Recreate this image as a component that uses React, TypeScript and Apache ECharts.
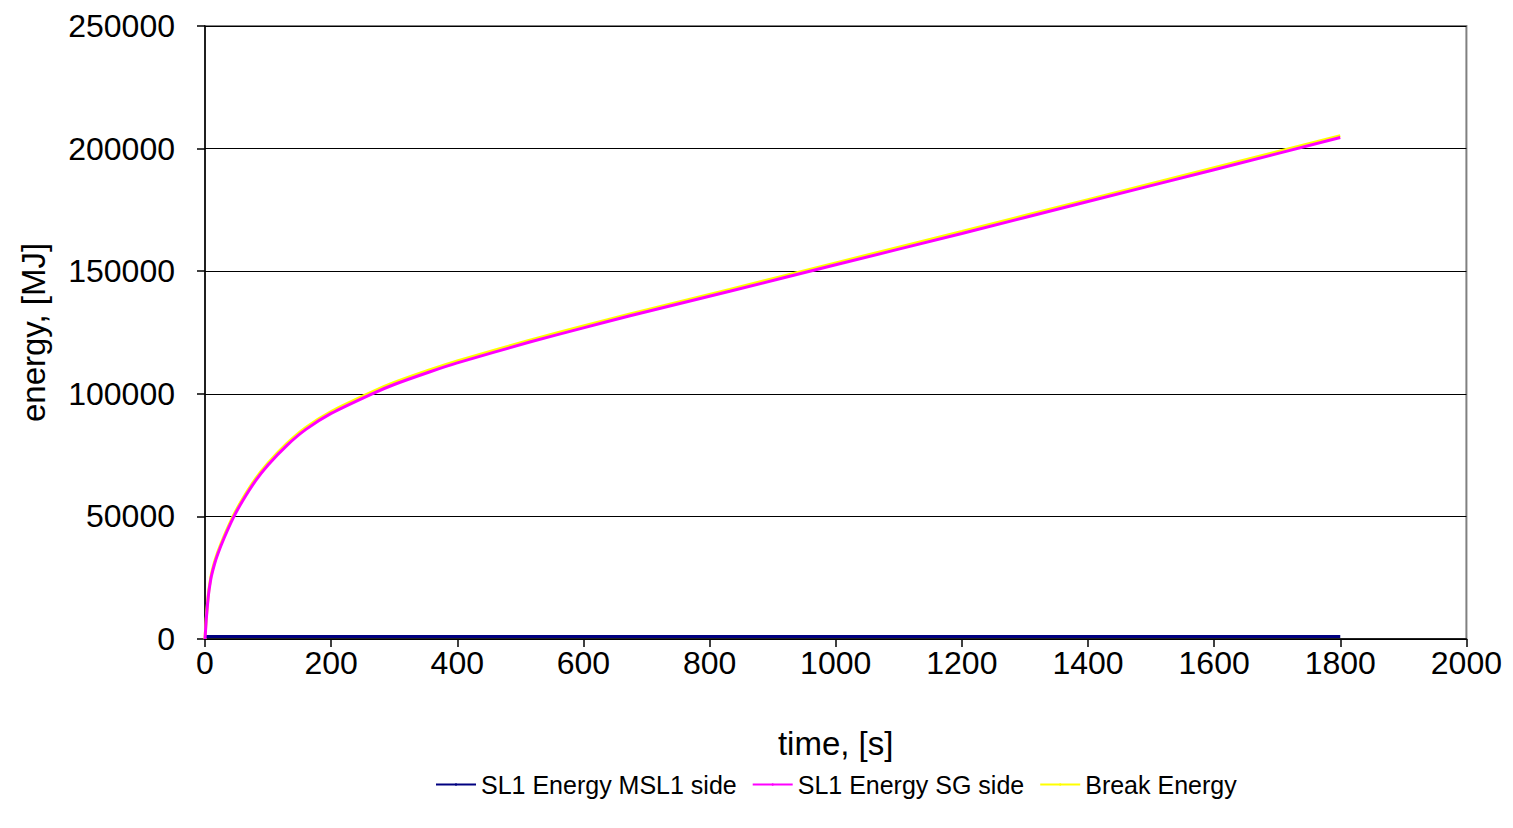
import React, { useEffect, useRef } from "react";
import * as echarts from "echarts";

const time = [0, 1, 2, 4, 6, 8, 10, 15, 20, 30, 45, 60, 80, 100, 130, 160, 200, 265, 300, 357, 400, 515, 600, 674, 832, 1000, 1200, 1400, 1600, 1800];
const sgEnergy = [0, 4000, 8000, 14000, 19000, 22500, 25500, 30500, 34500, 41000, 49500, 56500, 64500, 71000, 79000, 85500, 92000, 100000, 103800, 109000, 112600, 121100, 126900, 131800, 141800, 152600, 165400, 178400, 191400, 204500];
const breakEnergy = [0, 4500, 8600, 14700, 19700, 23200, 26300, 31300, 35300, 41800, 50300, 57300, 65300, 71800, 79800, 86300, 92800, 100800, 104600, 109800, 113400, 121900, 127700, 132600, 142600, 153400, 166200, 179200, 192200, 205300];
const mslTime = [0, 1800];
const mslEnergy = [1000, 1000];

const xTicks = { min: 0, max: 2000, interval: 200 };
const yTicks = { min: 0, max: 250000, interval: 50000 };

export default function App() {
  const ref = useRef<HTMLDivElement>(null);
  useEffect(() => {
    if (!ref.current) return;
    const chart = echarts.init(ref.current, undefined, { renderer: "svg" });
    const font = "'Liberation Sans', Arial, sans-serif";
    chart.setOption({
      animation: false,
      backgroundColor: "#ffffff",
      textStyle: { fontFamily: font },
      grid: {
        left: 197,
        right: 38,
        top: 18,
        bottom: 181,
        show: true,
        borderColor: "#808080",
        borderWidth: 2,
        backgroundColor: "transparent",
      },
      legend: {
        bottom: 18,
        left: 422,
        itemWidth: 40,
        itemHeight: 3,
        itemGap: 15,
        textStyle: { fontSize: 25, color: "#000", fontFamily: font },
        data: ["SL1 Energy MSL1 side", "SL1 Energy SG side", "Break Energy"],
      },
      xAxis: {
        type: "value",
        min: xTicks.min,
        max: xTicks.max,
        interval: xTicks.interval,
        name: "time, [s]",
        nameLocation: "middle",
        nameGap: 88,
        nameTextStyle: { fontSize: 33, color: "#000", fontFamily: font },
        axisLine: { show: true, lineStyle: { color: "#000", width: 1.5 } },
        axisTick: { show: true, inside: false, length: 8, lineStyle: { color: "#000", width: 1.5 } },
        axisLabel: { fontSize: 32, color: "#000", margin: 8, fontFamily: font, formatter: (v: number) => String(v) },
        splitLine: { show: false },
      },
      yAxis: {
        type: "value",
        min: yTicks.min,
        max: yTicks.max,
        interval: yTicks.interval,
        name: "energy, [MJ]",
        nameLocation: "middle",
        nameGap: 155,
        nameTextStyle: { fontSize: 33, color: "#000", fontFamily: font },
        axisLine: { show: true, lineStyle: { color: "#000", width: 1.5 } },
        axisTick: { show: true, inside: false, length: 8, lineStyle: { color: "#000", width: 1.5 } },
        axisLabel: { fontSize: 32, color: "#000", margin: 30, fontFamily: font, formatter: (v: number) => String(v) },
        splitLine: { show: true, lineStyle: { color: "#000", width: 1 } },
      },
      series: [
        {
          name: "SL1 Energy MSL1 side",
          type: "line",
          symbol: "none",
          color: "#000080",
          lineStyle: { color: "#000080", width: 3 },
          data: mslTime.map((t, i) => [t, mslEnergy[i]]),
        },
        {
          name: "SL1 Energy SG side",
          type: "line",
          symbol: "none",
          color: "#ff00ff",
          smooth: 0.2,
          lineStyle: { color: "#ff00ff", width: 3 },
          data: time.map((t, i) => [t, sgEnergy[i]]),
          z: 3,
        },
        {
          name: "Break Energy",
          type: "line",
          symbol: "none",
          color: "#ffff00",
          smooth: 0.2,
          lineStyle: { color: "#ffff00", width: 3 },
          data: time.map((t, i) => [t, breakEnergy[i]]),
          z: 2,
        },
      ],
    });
    return () => chart.dispose();
  }, []);
  return <div ref={ref} style={{ width: 1497, height: 812 }} />;
}
